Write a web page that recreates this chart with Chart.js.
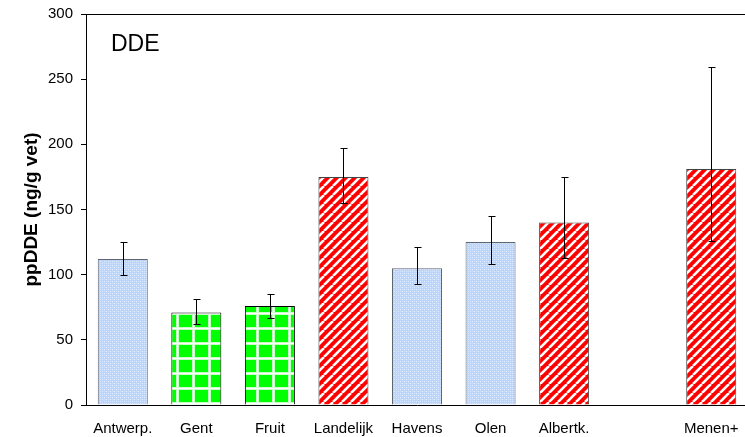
<!DOCTYPE html>
<html lang="nl">
<head>
<meta charset="UTF-8" />
<title>DDE</title>
<script src="https://cdn.jsdelivr.net/npm/chart.js@4.4.1/dist/chart.umd.min.js"></script>
<style>
  html, body { margin: 0; padding: 0; background: #fff; overflow: hidden; }
  #wrap { width: 748px; height: 440px; margin-top: -3px; }
</style>
</head>
<body>
<div id="wrap"><canvas id="chart" width="748" height="440"></canvas></div>
<script>
// ppDDE per regio (ng/g vet), gemiddelde met onder- en bovengrens
const categories = ["Antwerp.", "Gent", "Fruit", "Landelijk", "Havens", "Olen", "Albertk.", "", "Menen+"];
const means      = [112, 71, 76, 175, 105, 125, 140, null, 181];
const upper      = [125, 81, 85, 197, 121, 145, 175, null, 259];
const lower      = [100, 62, 67, 155,  93, 108, 113, null, 126];
const regionType = ["stad", "agrarisch", "agrarisch", "landelijk", "stad", "stad", "landelijk", null, "landelijk"];
const yTicks     = [0, 50, 100, 150, 200, 250, 300];

const canvas = document.getElementById("chart");
const ctx = canvas.getContext("2d");

function makePattern(w, h, draw) {
    const c = document.createElement("canvas");
    c.width = w;
    c.height = h;
    draw(c.getContext("2d"), w, h);
    return ctx.createPattern(c, "repeat");
}

// fijn lichtblauw raster
const bluePattern = makePattern(4, 4, (g) => {
    g.fillStyle = "#bad4fa";
    g.fillRect(0, 0, 4, 4);
    g.fillStyle = "#e2edfd";
    g.fillRect(0, 0, 1, 1);
    g.fillRect(2, 2, 1, 1);
    g.fillStyle = "#cfe1fc";
    g.fillRect(2, 0, 1, 1);
    g.fillRect(0, 2, 1, 1);
});

// groen met witte ruitjes
const greenPattern = makePattern(16, 15, (g) => {
    g.fillStyle = "#00ff00";
    g.fillRect(0, 0, 16, 15);
    g.fillStyle = "#c8ffc8";
    g.fillRect(0, 0, 3, 15);
    g.fillRect(0, 0, 16, 3);
    g.fillStyle = "#ffffff";
    g.fillRect(1, 0, 1, 15);
    g.fillRect(0, 1, 16, 1);
});

// rood met witte schuine strepen
const redPattern = makePattern(9, 9, (g) => {
    g.fillStyle = "#ff0000";
    g.fillRect(0, 0, 9, 9);
    g.strokeStyle = "#ffffff";
    g.lineWidth = 2.6;
    for (const o of [-9, 0, 9]) {
        g.beginPath();
        g.moveTo(o, 9);
        g.lineTo(o + 9, 0);
        g.stroke();
    }
});

const fills = { stad: bluePattern, agrarisch: greenPattern, landelijk: redPattern };
const edges = { stad: "#5f6670", agrarisch: "#000000", landelijk: "#444444" };

const errorBars = {
    id: "errorBars",
    afterDatasetsDraw(chart) {
        const meta = chart.getDatasetMeta(0);
        const y = chart.scales.y;
        const c = chart.ctx;
        c.save();
        c.strokeStyle = "#000";
        c.lineWidth = 1;
        meta.data.forEach((bar, i) => {
            if (means[i] == null) return;
            const x = Math.round(bar.x) + 0.5;
            const yHi = Math.round(y.getPixelForValue(upper[i])) + 0.5;
            const yLo = Math.round(y.getPixelForValue(lower[i])) + 0.5;
            c.beginPath();
            c.moveTo(x, yHi);
            c.lineTo(x, yLo);
            c.moveTo(x - 3, yHi);
            c.lineTo(x + 4, yHi);
            c.moveTo(x - 3, yLo);
            c.lineTo(x + 4, yLo);
            c.stroke();
        });
        c.restore();
    }
};

const frame = {
    id: "frame",
    afterDraw(chart) {
        const a = chart.chartArea;
        const c = chart.ctx;
        c.save();
        c.strokeStyle = "#000";
        c.lineWidth = 1;
        c.beginPath();
        c.moveTo(a.left, Math.round(a.top) + 0.5);
        c.lineTo(a.right, Math.round(a.top) + 0.5);
        c.stroke();
        c.fillStyle = "#000";
        c.font = "23px 'Liberation Sans', Arial, sans-serif";
        c.textBaseline = "middle";
        c.fillText("DDE", 111, a.top + 31);
        c.restore();
    }
};

new Chart(canvas, {
    type: "bar",
    data: {
        labels: categories,
        datasets: [{
            data: means,
            backgroundColor: regionType.map((t) => (t ? fills[t] : "transparent")),
            borderColor: regionType.map((t) => (t ? edges[t] : "transparent")),
            borderWidth: 1,
            categoryPercentage: 1,
            barPercentage: 0.68
        }]
    },
    options: {
        responsive: false,
        animation: false,
        layout: { padding: { top: 11, right: 0, bottom: 0, left: 0 } },
        plugins: {
            legend: { display: false },
            tooltip: { enabled: false }
        },
        scales: {
            x: {
                grid: { display: false },
                border: { display: true, color: "#000", width: 1 },
                ticks: {
                    color: "#000",
                    font: { family: "'Liberation Sans', Arial, sans-serif", size: 15 },
                    padding: 7,
                    maxRotation: 0,
                    autoSkip: false
                },
                afterFit(scale) { scale.height = 32; }
            },
            y: {
                min: 0,
                max: 300,
                afterBuildTicks(scale) { scale.ticks = yTicks.map((v) => ({ value: v })); },
                grid: { drawOnChartArea: false, drawTicks: true, tickLength: 5, color: "#000" },
                border: { display: true, color: "#000", width: 1 },
                ticks: {
                    color: "#000",
                    font: { family: "'Liberation Sans', Arial, sans-serif", size: 15 },
                    padding: 8
                },
                title: {
                    display: true,
                    text: "ppDDE (ng/g vet)",
                    color: "#000",
                    font: { family: "'Liberation Sans', Arial, sans-serif", size: 19, weight: "bold" },
                    padding: { top: 20, bottom: 0 }
                },
                afterFit(scale) { scale.width = 86; }
            }
        }
    },
    plugins: [errorBars, frame]
});
</script>
</body>
</html>
